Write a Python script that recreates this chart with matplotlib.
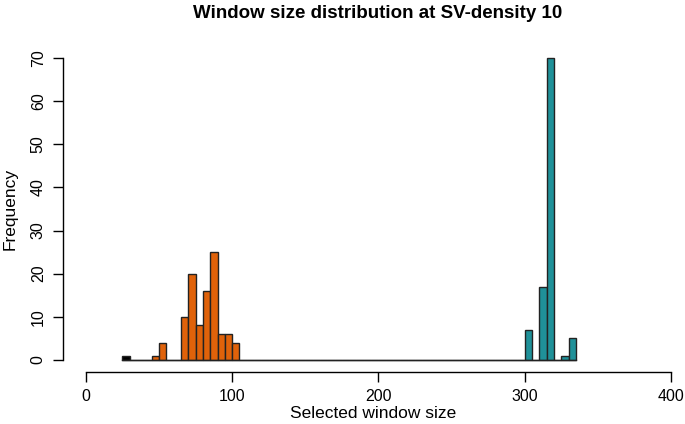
import matplotlib
matplotlib.use("Agg")
import matplotlib.pyplot as plt
import numpy as np

plt.rcParams['font.family'] = ['Liberation Sans', 'DejaVu Sans']

# Histogram data (bin width 5)
bin_edges = list(range(25, 340, 5))  # 25..335
counts = [1, 0, 0, 0, 1, 4, 0, 0, 10, 20, 8, 16, 25, 6, 6, 4] + [0] * 39 + [7, 0, 17, 70, 0, 1, 5]
# colour group per bin: 0 = black, 1 = orange, 2 = teal
groups = [0] + [1] * 15 + [1] * 39 + [2] * 7
palette = {0: '#000000', 1: '#E0620A', 2: '#1F9199'}

title = "Window size distribution at SV-density 10"
xlabel = "Selected window size"
ylabel = "Frequency"
xticks = [0, 100, 200, 300, 400]
yticks = [0, 10, 20, 30, 40, 50, 60, 70]

W, H = 685, 424
fig = plt.figure(figsize=(W / 100, H / 100), dpi=100)
left_px, right_px, top_px, bottom_px = 62.5, 685, 46, 372
ax = fig.add_axes([left_px / W, 1 - bottom_px / H, (right_px - left_px) / W, (bottom_px - top_px) / H])

px_per_x = 585 / 400.0
x0 = -16
x1 = x0 + (right_px - left_px) / px_per_x
ax.set_xlim(x0, x1)
ax.set_ylim(-2.8, 72.8)

lefts = np.array(bin_edges[:-1])
n = min(len(lefts), len(counts))
for i in range(n):
    ax.bar(lefts[i], counts[i], width=5, align='edge',
           color=palette[groups[i]], edgecolor='#222222', linewidth=1.0)
# baseline of zero-height bins
ax.plot([bin_edges[0], bin_edges[n]], [0, 0], color='#222222', linewidth=1.0, zorder=1)

for s in ['top', 'right']:
    ax.spines[s].set_visible(False)
ax.spines['left'].set_bounds(0, 70)
ax.spines['bottom'].set_bounds(0, 400)
ax.spines['left'].set_linewidth(1.0)
ax.spines['bottom'].set_linewidth(1.0)
ax.set_xticks(xticks)
ax.set_yticks(yticks)
ax.set_xticklabels([str(t) for t in xticks], fontsize=11.5)
ax.set_yticklabels([str(t) for t in yticks], fontsize=11.5, rotation=90, va='center')
ax.tick_params(axis='both', length=7, width=1.0, pad=5)

fig.text(373 / W, 1 - 414 / H, xlabel, fontsize=12.5, ha='center', va='center')
fig.text(10 / W, 1 - 209 / H, ylabel, fontsize=12.5, ha='center', va='center', rotation=90)
fig.text(378 / W, 1 - 13 / H, title, fontsize=13.5, fontweight='bold', ha='center', va='center')

fig.savefig('out.png', dpi=100)
